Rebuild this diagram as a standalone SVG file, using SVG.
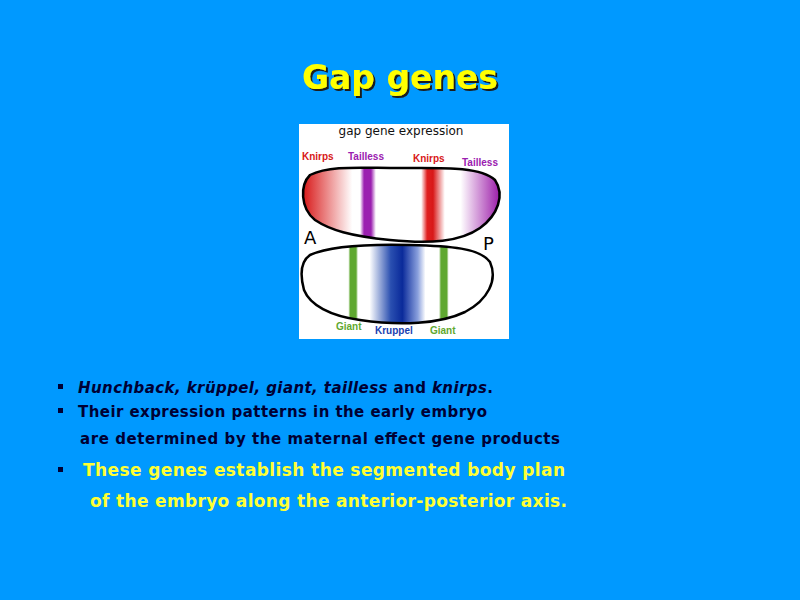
<svg xmlns="http://www.w3.org/2000/svg" width="800" height="600" viewBox="0 0 800 600">
<style>
.b{font-family:"DejaVu Sans",Verdana,sans-serif;font-weight:bold;font-size:15px;fill:#000033}
.y{font-family:"DejaVu Sans",Verdana,sans-serif;font-weight:bold;font-size:17px;fill:#FFFF33}
.l{font-family:"Liberation Sans",Arial,sans-serif;font-weight:bold;font-size:10px}
</style>
<defs>
<filter id="sh" x="-10%" y="-20%" width="120%" height="140%"><feDropShadow dx="2" dy="2" stdDeviation="0.5" flood-color="#1a1a1a"/></filter>
<linearGradient id="gu" gradientUnits="userSpaceOnUse" x1="303" y1="0" x2="500" y2="0">
<stop offset="0" stop-color="#d81818"/>
<stop offset="0.25" stop-color="#fff"/>
<stop offset="0.29" stop-color="#fff"/>
<stop offset="0.31" stop-color="#9b20b0"/>
<stop offset="0.345" stop-color="#9b20b0"/>
<stop offset="0.37" stop-color="#fff"/>
<stop offset="0.6" stop-color="#fff"/>
<stop offset="0.63" stop-color="#e02020"/>
<stop offset="0.66" stop-color="#d81818"/>
<stop offset="0.72" stop-color="#fff"/>
<stop offset="0.8" stop-color="#fff"/>
<stop offset="1" stop-color="#9b1aa8"/>
</linearGradient>
<linearGradient id="gl" gradientUnits="userSpaceOnUse" x1="302" y1="0" x2="495" y2="0">
<stop offset="0" stop-color="#fff"/>
<stop offset="0.24" stop-color="#fff"/>
<stop offset="0.25" stop-color="#5fa830"/>
<stop offset="0.28" stop-color="#5fa830"/>
<stop offset="0.29" stop-color="#fff"/>
<stop offset="0.35" stop-color="#fff"/>
<stop offset="0.46" stop-color="#2a4fb0"/>
<stop offset="0.52" stop-color="#0a2a9a"/>
<stop offset="0.6" stop-color="#8aa0dd"/>
<stop offset="0.64" stop-color="#fff"/>
<stop offset="0.71" stop-color="#fff"/>
<stop offset="0.72" stop-color="#5fa830"/>
<stop offset="0.75" stop-color="#5fa830"/>
<stop offset="0.76" stop-color="#fff"/>
</linearGradient>
</defs>
<rect width="800" height="600" fill="#0099FF"/>
<text x="400" y="89" text-anchor="middle" font-family="DejaVu Sans,Verdana,sans-serif" font-weight="bold" font-size="33" fill="#FFFF00" filter="url(#sh)">Gap genes</text>
<g id="figure">
<rect x="299" y="124" width="210" height="215" fill="#fff"/>
<text x="401" y="135" text-anchor="middle" font-family="DejaVu Sans,Verdana,sans-serif" font-size="12" fill="#111">gap gene expression</text>
<text x="302" y="160" class="l" fill="#d81818">Knirps</text>
<text x="348" y="160" class="l" fill="#9b20b0">Tailless</text>
<text x="413" y="162" class="l" fill="#d81818">Knirps</text>
<text x="462" y="166" class="l" fill="#9b20b0">Tailless</text>
<path d="M310,175 C330,165 360,168 400,168 C440,168 480,166 495,180 C505,195 498,215 480,228 C460,242 430,244 390,240 C350,236 330,230 315,220 C300,208 300,185 310,175 Z" fill="url(#gu)" stroke="#000" stroke-width="2.5"/>
<path d="M310,255 C330,246 370,244 410,245 C450,246 480,248 490,262 C498,280 488,300 465,312 C440,324 400,326 360,320 C330,316 310,305 304,290 C300,275 300,262 310,255 Z" fill="url(#gl)" stroke="#000" stroke-width="2.5"/>
<text x="304" y="244" font-family="DejaVu Sans,sans-serif" font-size="18" fill="#000">A</text>
<text x="483" y="250" font-family="DejaVu Sans,sans-serif" font-size="18" fill="#000">P</text>
<text x="336" y="330" class="l" fill="#5fa830">Giant</text>
<text x="375" y="334" class="l" fill="#1a3fb0">Kruppel</text>
<text x="430" y="334" class="l" fill="#5fa830">Giant</text>
</g>
<g id="bullets">
<rect x="58" y="384" width="5" height="5" fill="#000033"/>
<rect x="58" y="408" width="5" height="5" fill="#000033"/>
<rect x="58" y="467" width="5" height="5" fill="#000033"/>
<text x="78" y="393" class="b" textLength="415"><tspan font-style="italic">Hunchback, krüppel, giant, tailless</tspan> and <tspan font-style="italic">knirps</tspan>.</text>
<text x="78" y="417" class="b" textLength="409">Their expression patterns in the early embryo</text>
<text x="80" y="444" class="b" textLength="480">are determined by  the maternal effect gene products</text>
<text x="83" y="476" class="y" textLength="482">These genes establish the segmented body plan</text>
<text x="90" y="507" class="y" textLength="477">of the embryo along the anterior-posterior axis.</text>
</g>
</svg>
